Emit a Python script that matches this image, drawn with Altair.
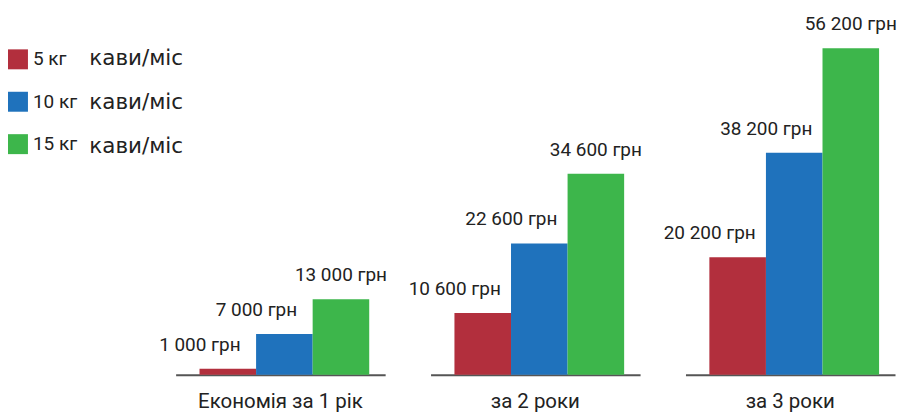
import altair as alt
import pandas as pd

groups = ["Економія за 1 рік", "за 2 роки", "за 3 роки"]
series = ["5 кг", "10 кг", "15 кг"]
vals_5 = [1000, 10600, 20200]
vals_10 = [7000, 22600, 38200]
vals_15 = [13000, 34600, 56200]
colors = ["#B22F3D", "#1F72BC", "#3DB64B"]
legend_suffix = "кави/міс"

rows = []
for s, vals in zip(series, [vals_5, vals_10, vals_15]):
    for g, v in zip(groups, vals):
        rows.append({"group": g, "series": s, "value": v,
                     "label": f"{v:,}".replace(",", " ") + " грн"})
df = pd.DataFrame(rows)

x_enc = alt.X("series:N", sort=series,
              scale=alt.Scale(domain=series, paddingInner=0, paddingOuter=0.352,
                              align=0.6),
              axis=alt.Axis(title=None, labels=False, ticks=False, grid=False,
                            domain=True, domainColor="#555555", domainWidth=2))
y_enc = alt.Y("value:Q", scale=alt.Scale(domain=[0, 62200], nice=False, zero=True),
              axis=None)

base = alt.Chart()

bars = base.transform_calculate(s2="'~' + datum.series").mark_bar().encode(
    x=x_enc,
    y=y_enc,
    color=alt.Color("series:N", scale=alt.Scale(domain=series, range=colors),
                    legend=alt.Legend(orient="none", legendX=-168, legendY=36,
                                      title=None, symbolType="square",
                                      symbolSize=400, symbolStrokeWidth=0,
                                      symbolOpacity=1,
                                      labelFont="Roboto", labelFontSize=19,
                                      labelColor="#222222", labelOffset=5,
                                      rowPadding=22.5, padding=0,
                                      direction="vertical")),
    opacity=alt.Opacity("s2:N",
                        scale=alt.Scale(domain=["~" + s for s in series],
                                        range=[1, 1, 1]),
                        legend=alt.Legend(orient="none", legendX=-108, legendY=35,
                                          title=None, symbolSize=0,
                                          symbolOpacity=0, symbolStrokeWidth=0,
                                          symbolFillColor="transparent",
                                          symbolStrokeColor="transparent",
                                          labelOffset=0,
                                          labelFont="DejaVu Sans", labelFontSize=21.5,
                                          labelColor="#222222",
                                          labelExpr=f"'{legend_suffix}'",
                                          rowPadding=21, padding=0,
                                          direction="vertical")),
)

text_style = dict(dy=-18, baseline="alphabetic", font="Roboto", fontSize=19,
                  color="#222222")

text_left = base.transform_filter(
    alt.FieldOneOfPredicate(field="series", oneOf=series[:2])
).mark_text(dx=-28, **text_style).encode(x=x_enc, y=y_enc, text="label:N")

text_right = base.transform_filter(
    alt.FieldEqualPredicate(field="series", equal=series[2])
).mark_text(dx=0, **text_style).encode(x=x_enc, y=y_enc, text="label:N")

inner = alt.layer(bars, text_left, text_right).properties(width=210, height=362)

chart = inner.facet(
    column=alt.Column("group:N", sort=groups,
                      header=alt.Header(title=None, labelOrient="bottom",
                                        labelFont="Roboto", labelFontSize=20.5,
                                        labelColor="#222222", labelPadding=33,
                                        labelBaseline="alphabetic")),
    spacing=45.5,
    bounds="flush",
    data=df,
).properties(
    padding={"left": 0, "top": 5, "right": 0, "bottom": 0},
).configure_view(stroke=None)

chart.save("out.html", embed_options={"renderer": "svg", "actions": False})
